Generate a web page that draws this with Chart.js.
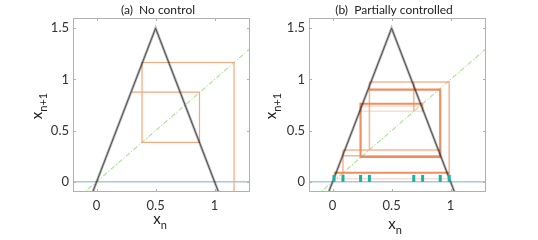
<!DOCTYPE html>
<html>
<head>
<meta charset="utf-8">
<script src="https://cdn.jsdelivr.net/npm/chart.js@4.4.1/dist/chart.umd.min.js"></script>
<style>
  body { margin: 0; background: #fff; }
  #wrap { position: relative; width: 538px; height: 240px; }
  #boxA { position: absolute; left: 0; top: 0; width: 262px; height: 240px; }
  #boxB { position: absolute; left: 262px; top: 0; width: 276px; height: 240px; }
</style>
</head>
<body>
<div id="wrap">
  <div id="boxA"><canvas id="chartA"></canvas></div>
  <div id="boxB"><canvas id="chartB"></canvas></div>
</div>
<script>
// ticks
const xTicks = [0, 0.5, 1];
const yTicks = [0, 0.5, 1, 1.5];

// tent map (slope 3, peak 1.5)
const tentX = [-0.033, 0.5, 1.033];
const tentY = [-0.1, 1.5, -0.1];

// diagonal x(n+1) = x(n) and zero line
const diagX = [-0.2, 1.3];
const diagY = [-0.2, 1.3];
const zeroX = [-0.2, 1.3];
const zeroY = [0, 0];

// (a) cobweb, escaping orbit
const cobAX = [0.30, 0.872, 0.872, 0.385, 0.385, 1.165, 1.165];
const cobAY = [0.875, 0.875, 0.385, 0.385, 1.165, 1.165, -0.2];

// (b) cobweb, null = break between pieces
const strongX = [0.312, 0.912, 0.912, 0.237, 0.237, 0.763, null, 0.012, 0.988];
const strongY = [0.90, 0.90, 0.242, 0.242, 0.762, 0.762, null, 0.088, 0.088];
const midX = [0.312, 0.988, 0.988, null, 0.312, 0.312, null, 0.088, 0.912, null, 0.088, 0.088, null, 0.688, 0.688, null, 0.763, 0.763, null, 0.088, 0.912];
const midY = [0.975, 0.975, 0.0, null, 0.975, 0.31, null, 0.31, 0.31, null, 0.31, 0.03, null, 0.975, 0.69, null, 0.762, 0.69, null, 0.255, 0.255];
const faintX = [0.237, 0.763, null, 0.012, 0.988, null, 0.012, 0.012, null, 0.237, 0.763];
const faintY = [0.69, 0.69, null, 0.03, 0.03, null, 0.088, 0.03, null, 0.74, 0.74];

// (b) control kicks
const ctrlX = [0.012, 0.088, 0.237, 0.312, 0.688, 0.763, 0.912, 0.988];
const ctrlY = [0.033, 0.033, 0.033, 0.033, 0.033, 0.033, 0.033, 0.033];

function pts(xs, ys) {
  return xs.map((x, i) => ({ x: x, y: ys[i] }));
}

function lineSet(xs, ys, color, width, order, dash) {
  return {
    data: pts(xs, ys), showLine: true, pointRadius: 0, borderColor: color,
    borderWidth: width, borderDash: dash || [], order: order, spanGaps: false
  };
}

function baseSets() {
  return [
    lineSet(tentX, tentY, 'rgba(40,40,40,0.75)', 1, 1),
    lineSet(tentX, tentY, 'rgba(0,0,0,0.28)', 2.6, 2),
    lineSet(diagX, diagY, '#7fe05c', 1, 8, [5, 2, 1, 2]),
    lineSet(zeroX, zeroY, '#a9c9dd', 1.5, 9)
  ];
}

// box with inward ticks, titles, axis labels with subscripts
const decor = {
  id: 'decor',
  afterDraw(chart, args, o) {
    const ctx = chart.ctx;
    const a = chart.chartArea;
    const sx = chart.scales.x, sy = chart.scales.y;
    ctx.save();
    ctx.strokeStyle = '#b0b0b0';
    ctx.lineWidth = 1;
    ctx.strokeRect(a.left + 0.5, a.top + 0.5, a.right - a.left - 1, a.bottom - a.top - 1);
    ctx.beginPath();
    xTicks.forEach(v => {
      const p = Math.round(sx.getPixelForValue(v)) + 0.5;
      ctx.moveTo(p, a.bottom); ctx.lineTo(p, a.bottom - 3);
      ctx.moveTo(p, a.top); ctx.lineTo(p, a.top + 3);
    });
    yTicks.forEach(v => {
      const p = Math.round(sy.getPixelForValue(v)) + 0.5;
      ctx.moveTo(a.left, p); ctx.lineTo(a.left + 3, p);
      ctx.moveTo(a.right, p); ctx.lineTo(a.right - 3, p);
    });
    ctx.stroke();

    ctx.fillStyle = '#222';
    ctx.font = '12px Lato';
    ctx.textAlign = 'center';
    ctx.textBaseline = 'middle';
    ctx.fillText(o.title, o.titleX, 10);

    // x label
    ctx.textAlign = 'left';
    ctx.textBaseline = 'alphabetic';
    ctx.font = '15px Lato';
    let w1 = ctx.measureText('x').width;
    ctx.font = '11px Lato';
    let w2 = ctx.measureText('n').width;
    let x0 = o.xlabX - (w1 + w2) / 2;
    ctx.font = '15px Lato';
    ctx.fillText('x', x0, o.xlabY);
    ctx.font = '11px Lato';
    ctx.fillText('n', x0 + w1, o.xlabY + 5);

    // y label, rotated
    ctx.translate(o.ylabX, 106);
    ctx.rotate(-Math.PI / 2);
    ctx.font = '15px Lato';
    w1 = ctx.measureText('x').width;
    ctx.font = '11px Lato';
    w2 = ctx.measureText('n+1').width;
    x0 = -(w1 + w2) / 2;
    ctx.font = '15px Lato';
    ctx.fillText('x', x0, 0);
    ctx.font = '11px Lato';
    ctx.fillText('n+1', x0 + w1, 5);
    ctx.restore();
  }
};

function makeChart(id, sets, yWidth, padRight, deco) {
  return new Chart(document.getElementById(id), {
    type: 'scatter',
    data: { datasets: sets },
    options: {
      responsive: true, maintainAspectRatio: false, animation: false, devicePixelRatio: 1,
      layout: { padding: { top: 18, right: padRight, left: 0, bottom: 0 } },
      plugins: { legend: { display: false }, tooltip: { enabled: false }, decor: deco },
      scales: {
        x: {
          type: 'linear', min: -0.2, max: 1.3,
          grid: { display: false, drawTicks: false }, border: { display: false },
          ticks: { padding: 6, color: '#333', font: { family: 'Lato', size: 13 }, callback: v => String(v) },
          afterBuildTicks: s => { s.ticks = xTicks.map(v => ({ value: v })); },
          afterFit: s => { s.height = 48; }
        },
        y: {
          type: 'linear', min: -0.1, max: 1.6,
          grid: { display: false, drawTicks: false }, border: { display: false },
          ticks: { padding: 4, color: '#333', font: { family: 'Lato', size: 13 }, callback: v => String(v) },
          afterBuildTicks: s => { s.ticks = yTicks.map(v => ({ value: v })); },
          afterFit: s => { s.width = yWidth; }
        }
      }
    },
    plugins: [decor]
  });
}

const setsA = baseSets();
setsA.push(lineSet(cobAX, cobAY, '#f6a77c', 1.2, 5));

const setsB = baseSets();
setsB.push(lineSet(strongX, strongY, 'rgba(240,130,80,0.9)', 2.2, 4));
setsB.push(lineSet(midX, midY, 'rgba(244,150,100,0.7)', 1.5, 5));
setsB.push(lineSet(faintX, faintY, 'rgba(244,160,115,0.35)', 1.5, 6));
setsB.push({
  data: pts(ctrlX, ctrlY), showLine: false, pointStyle: 'line', rotation: 90,
  pointRadius: 3.5, borderWidth: 3, borderColor: '#19b1a3', order: 0
});

makeChart('chartA', setsA, 73, 12,
  { title: '(a)  No control', titleX: 158, xlabX: 160, xlabY: 224, ylabX: 42 });
makeChart('chartB', setsB, 47, 52,
  { title: '(b)  Partially controlled', titleX: 132, xlabX: 133, xlabY: 229, ylabX: 14 });
</script>
</body>
</html>
